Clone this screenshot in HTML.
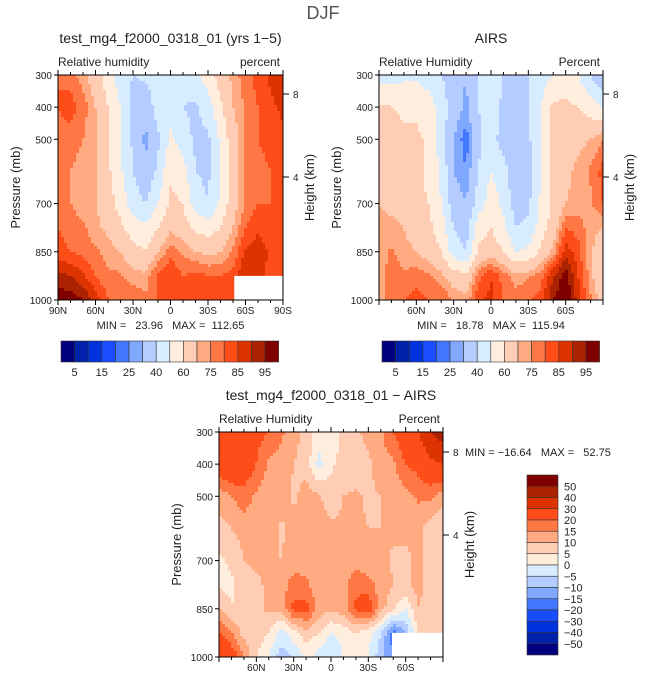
<!DOCTYPE html>
<html><head><meta charset="utf-8"><style>
body{margin:0;background:#fff;}
svg text{font-family:"Liberation Sans",sans-serif;fill:#222;white-space:pre;}
</style></head><body>
<svg id="s" width="647" height="682" xmlns="http://www.w3.org/2000/svg">
<text x="323" y="19" font-size="18" text-anchor="middle" fill="#555" style="fill:#555">DJF</text>
</svg>
<script>
const lats=[90,80,70,60,50,40,30,20,10,0,-10,-20,-30,-40,-50,-60,-70,-80,-90];
const pres=[300,400,500,600,700,775,850,925,1000];
const model=[
[80,78,72,65,55,45,40,42,45,45,45,48,55,65,72,78,82,86,88],
[80,82,78,70,60,50,35,33,45,45,40,38,45,58,70,76,80,84,86],
[78,78,75,70,62,50,38,28,38,52,45,38,38,52,66,75,80,82,84],
[76,75,72,70,62,52,40,32,42,58,55,40,38,50,65,75,78,80,84],
[78,75,72,70,65,56,45,40,50,62,60,45,40,52,66,76,80,80,82],
[80,78,76,72,68,62,55,52,60,68,65,58,55,60,70,80,84,82,82],
[82,80,78,76,73,70,64,60,70,78,74,70,68,70,76,86,88,84,82],
[92,90,86,80,76,76,72,72,82,85,80,82,80,80,82,90,86,84,82],
[98,98,95,88,80,80,80,76,80,84,80,82,82,80,80,84,84,82,82]];
const airs=[
[45,45,48,48,45,40,35,30,40,45,40,40,40,45,50,55,50,40,30],
[62,60,58,58,55,45,35,28,40,45,38,35,40,50,62,62,60,55,50],
[66,66,62,62,58,45,30,22,38,45,35,30,38,50,62,65,68,70,75],
[68,66,65,62,58,48,30,25,40,50,45,30,35,50,62,68,72,76,82],
[70,68,66,62,60,50,35,30,45,55,48,35,38,52,62,70,72,74,80],
[72,72,70,66,62,55,40,35,55,60,52,40,42,55,65,80,78,72,70],
[72,76,72,70,66,60,45,40,62,66,60,50,52,62,72,88,82,72,62],
[72,78,76,78,76,72,65,62,78,85,78,72,74,78,90,98,85,72,62],
[74,76,80,82,80,80,75,72,85,86,80,78,80,82,95,100,88,76,66]];
const diff=[
[28,30,28,22,20,16,12,8,3,2,6,9,12,14,20,25,30,40,45],
[25,28,25,20,14,13,10,8,-2,4,7,6,9,13,14,20,22,28,30],
[12,15,18,14,12,13,9,12,11,7,10,11,9,10,12,13,16,16,12],
[8,10,12,11,13,9,12,13,12,11,11,11,10,10,11,11,11,8,5],
[4,6,10,11,11,10,13,13,13,12,11,13,11,13,9,9,11,8,8],
[4,4,7,9,11,13,17,16,12,10,13,19,17,13,10,9,12,8,8],
[10,5,8,9,11,11,22,22,13,11,13,21,24,12,6,0,10,6,5],
[20,15,8,8,5,-2,3,8,5,0,2,5,2,-5,-18,-10,5,5,5],
[30,25,15,5,0,-8,-5,2,-2,-5,0,2,0,-8,-15,-10,5,5,5]];
const rhLevels=[5,10,15,20,25,30,40,50,60,70,75,80,85,90,95];
const rhLabels=["5","15","25","40","60","75","85","95"];
const dLevels=[-50,-40,-30,-20,-15,-10,-5,0,5,10,15,20,30,40,50];
const dLabels=["50","40","30","20","15","10","5","0","\u22125","\u221210","\u221215","\u221220","\u221230","\u221240","\u221250"];
const pTicks=[300,400,500,700,850,1000];
const latTicks=[90,60,30,0,-30,-60,-90];
const colors=["#00007f","#0022aa","#0033dd","#1a4dff","#4477ff","#80a8ff","#b4ccff","#d8ecff","#ffeedd","#ffccb4","#ffaa80","#ff7744","#ff4d1a","#dd3300","#aa2200","#800000"];
const NS="http://www.w3.org/2000/svg";
const svg=document.getElementById('s');
function mk(tag,attrs,parent){const e=document.createElementNS(NS,tag);for(const k in attrs)e.setAttribute(k,attrs[k]);(parent||svg).appendChild(e);return e;}
function txt(x,y,s,size,anchor,name,parent,rot){const t=mk('text',{x:x,y:y,'font-size':size,'text-anchor':anchor||'middle'},parent);t.textContent=s;


if(rot)t.setAttribute('transform','rotate(-90 '+x+' '+y+')');return t;}
function levelIdx(v,lv){let i=0;while(i<lv.length&&v>=lv[i])i++;return i;}
function latName(l){return l===0?"0":Math.abs(l)+(l>0?"N":"S");}
function interp(data,lat,p){
 let ci=(90-lat)/10;ci=Math.max(0,Math.min(17.999,ci));const c0=Math.floor(ci),fc=ci-c0;
 let ri=0;while(ri<pres.length-2&&p>pres[ri+1])ri++;let fr=(p-pres[ri])/(pres[ri+1]-pres[ri]);fr=Math.max(0,Math.min(1,fr));
 const a=data[ri][c0]*(1-fc)+data[ri][c0+1]*fc,b=data[ri+1][c0]*(1-fc)+data[ri+1][c0+1]*fc;return a*(1-fr)+b*fr;}
function panel(o){
 const g=mk('g',{});
 
 
 const X=l=>o.x0+(90-l)/180*(o.x1-o.x0), Y=p=>o.y0+(p-300)/700*(o.y1-o.y0);
 const st=3;
 for(let py=o.y0;py<o.y1;py+=st){for(let px=o.x0;px<o.x1;px+=st){
  const lat=90-(px+st/2-o.x0)/(o.x1-o.x0)*180,p=300+(py+st/2-o.y0)/(o.y1-o.y0)*700;
  const v=interp(o.data,lat,p);
  const r=mk('rect',{x:px,y:py,width:Math.min(st,o.x1-px)+0.3,height:Math.min(st,o.y1-py)+0.3,fill:colors[levelIdx(v,o.levels)]},g);
  
  
 }}
 const w=mk('rect',{x:X(o.wlat),y:Y(o.wp),width:o.x1-X(o.wlat),height:o.y1-Y(o.wp),fill:"#fff"},g);
 
 
 const fr=mk('rect',{x:o.x0,y:o.y0,width:o.x1-o.x0,height:o.y1-o.y0,fill:"none",stroke:"#000","stroke-width":1},g);
 
 
 pTicks.forEach(p=>{mk('line',{x1:o.x0-4,x2:o.x0,y1:Y(p),y2:Y(p),stroke:"#000"},g);txt(o.x0-6,Y(p)+4,String(p),10,'end','y-tick-label',g);});
 for(let l=90;l>=-90;l-=10){const len=(l%30===0)?5:3;mk('line',{x1:X(l),x2:X(l),y1:o.y0,y2:o.y0-len,stroke:"#000"},g);mk('line',{x1:X(l),x2:X(l),y1:o.y1,y2:o.y1+len,stroke:"#000"},g);}
 latTicks.forEach(l=>{if(o.skipEnds&&Math.abs(l)===90)return;txt(X(l),o.y1+14,latName(l),10,'middle','x-tick-label',g);});
 [[8,o.h8],[4,o.h4]].forEach(h=>{mk('line',{x1:o.x1,x2:o.x1+6,y1:h[1],y2:h[1],stroke:"#000"},g);txt(o.x1+10,h[1]+4,String(h[0]),10,'start','height-tick-label',g);});
 txt((o.x0+o.x1)/2,o.y0-32,o.title,14,'middle','panel-title',g);
 txt(o.x0,o.y0-9,o.sub,12,'start','variable-label',g);
 txt(o.x1-3,o.y0-9,o.unit,12,'end','units-label',g);
 txt(o.x0-38,(o.y0+o.y1)/2,'Pressure (mb)',13,'middle','y-axis-title',g,true);
 txt(o.x1+31,(o.y0+o.y1)/2,'Height (km)',13,'middle','height-axis-title',g,true);
 if(o.minmax)txt((o.x0+o.x1)/2,o.y1+29,o.minmax,11,'middle','min-max-label',g);
}
panel({name:'model-panel',x0:58,x1:283,y0:75,y1:300,data:model,levels:rhLevels,wlat:-51,wp:925,h8:94,h4:177,title:'test_mg4_f2000_0318_01 (yrs 1\u22125)',sub:'Relative humidity',unit:'percent',minmax:'MIN =   23.96   MAX =  112.65'});
panel({name:'airs-panel',x0:379,x1:603,y0:75,y1:300,data:airs,levels:rhLevels,wlat:-91,wp:1000,h8:94,h4:177,title:'AIRS',sub:'Relative Humidity',unit:'Percent',minmax:'MIN =   18.78   MAX =  115.94',skipEnds:true});
panel({name:'difference-panel',x0:219,x1:443,y0:432,y1:657,data:diff,levels:dLevels,wlat:-49,wp:925,h8:452,h4:535,title:'test_mg4_f2000_0318_01 \u2212 AIRS',sub:'Relative Humidity',unit:'Percent',skipEnds:true});
txt(465,456,'MIN = \u221216.64   MAX =   52.75',11,'start','diff-min-max-label');
function hbar(x0,name){const bw=13.6;const g=mk('g',{});
 
 
 colors.forEach((c,i)=>{const r=mk('rect',{x:x0+i*bw,y:341,width:bw,height:21,fill:c,stroke:"#333","stroke-width":0.6},g);
 
 });
 rhLabels.forEach((s,i)=>txt(x0+(2*i+1)*bw,376,s,11,'middle','colorbar-label',g));}
hbar(61,'model-colorbar');hbar(382,'airs-colorbar');
(function(){const g=mk('g',{});
 
 
 const bh=11.25;
 for(let i=0;i<16;i++){const r=mk('rect',{x:527,y:475+i*bh,width:31,height:bh,fill:colors[15-i],stroke:"#333","stroke-width":0.6},g);
 
 }
 dLabels.forEach((s,i)=>txt(564,475+(i+1)*bh+4,s,11,'start','colorbar-label',g));})();
</script>
</body></html>
